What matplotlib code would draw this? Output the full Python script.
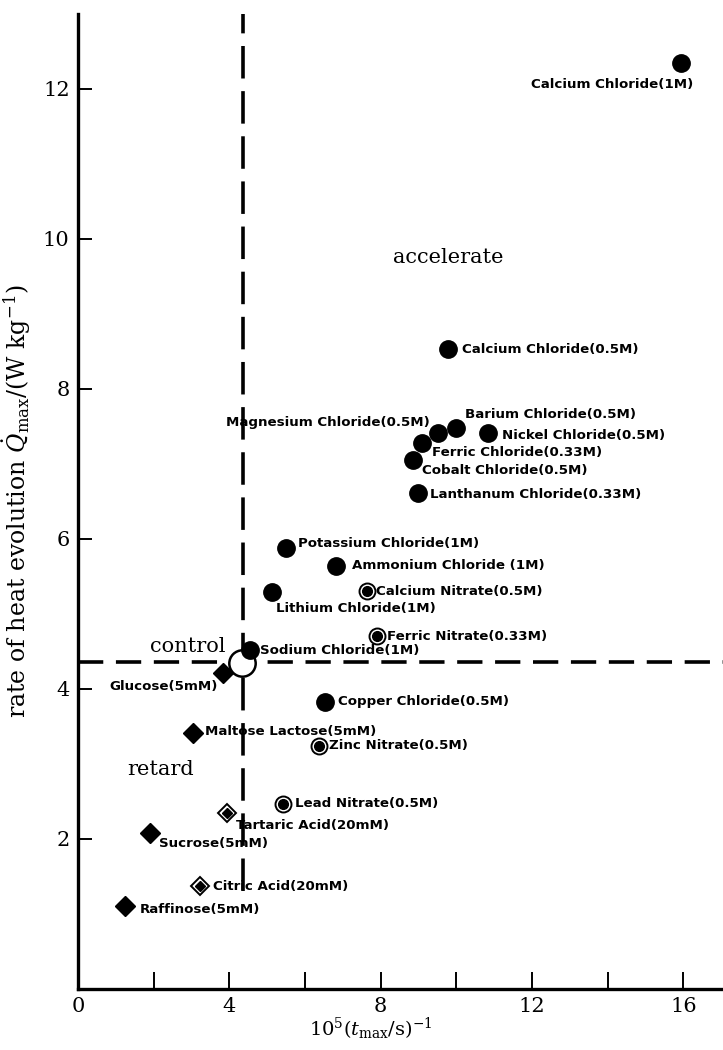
import numpy as np
import matplotlib.pyplot as plt

plt.rcParams["font.family"] = "DejaVu Serif"
plt.rcParams["mathtext.fontset"] = "dejavuserif"

# ----------------------------------------------------------
# data
# ----------------------------------------------------------
names = [
    "Calcium Chloride(1M)", "Calcium Chloride(0.5M)", "Barium Chloride(0.5M)",
    "Magnesium Chloride(0.5M)", "Ferric Chloride(0.33M)", "Cobalt Chloride(0.5M)",
    "Nickel Chloride(0.5M)", "Lanthanum Chloride(0.33M)", "Potassium Chloride(1M)",
    "Ammonium Chloride (1M)", "Lithium Chloride(1M)", "Sodium Chloride(1M)",
    "Copper Chloride(0.5M)",
    "Calcium Nitrate(0.5M)", "Ferric Nitrate(0.33M)", "Zinc Nitrate(0.5M)",
    "Lead Nitrate(0.5M)",
    "Glucose(5mM)", "Maltose Lactose(5mM)", "Sucrose(5mM)", "Raffinose(5mM)",
    "Tartaric Acid(20mM)", "Citric Acid(20mM)",
]
rate_inv = [
    15.94, 9.78, 9.99, 9.52, 9.09, 8.86, 10.84, 8.99, 5.51, 6.81, 5.12, 4.55,
    6.53,
    7.63, 7.90, 6.38, 5.41,
    3.82, 3.03, 1.90, 1.24,
    3.93, 3.22,
]
q_max = [
    12.35, 8.53, 7.48, 7.41, 7.28, 7.05, 7.41, 6.61, 5.88, 5.64, 5.29, 4.52,
    3.83,
    5.30, 4.70, 3.24, 2.47,
    4.21, 3.41, 2.08, 1.11,
    2.34, 1.37,
]
kinds = ["chloride"] * 13 + ["nitrate"] * 4 + ["sugar"] * 4 + ["acid"] * 2

control_x, control_y = 4.33, 4.34
ref_x, ref_y = 4.36, 4.36

# label placement (offset pixels, horizontal alignment)
label_pos = {
    "Calcium Chloride(1M)": (-150, -22, "left"),
    "Calcium Chloride(0.5M)": (14, 0, "left"),
    "Barium Chloride(0.5M)": (9, 13, "left"),
    "Magnesium Chloride(0.5M)": (-8, 11, "right"),
    "Ferric Chloride(0.33M)": (10, -10, "left"),
    "Cobalt Chloride(0.5M)": (9, -10, "left"),
    "Nickel Chloride(0.5M)": (14, -2, "left"),
    "Lanthanum Chloride(0.33M)": (12, -1, "left"),
    "Potassium Chloride(1M)": (12, 4, "left"),
    "Ammonium Chloride (1M)": (16, 0, "left"),
    "Lithium Chloride(1M)": (4, -16, "left"),
    "Sodium Chloride(1M)": (10, -1, "left"),
    "Copper Chloride(0.5M)": (13, 0, "left"),
    "Calcium Nitrate(0.5M)": (9, 0, "left"),
    "Ferric Nitrate(0.33M)": (10, 0, "left"),
    "Zinc Nitrate(0.5M)": (10, 0, "left"),
    "Lead Nitrate(0.5M)": (12, 0, "left"),
    "Glucose(5mM)": (-5, -13, "right"),
    "Maltose Lactose(5mM)": (12, 2, "left"),
    "Sucrose(5mM)": (9, -11, "left"),
    "Raffinose(5mM)": (15, -4, "left"),
    "Tartaric Acid(20mM)": (9, -12, "left"),
    "Citric Acid(20mM)": (13, 0, "left"),
}

fig = plt.figure(figsize=(7.23, 10.5), dpi=100)
ax = fig.add_axes([0.1079, 0.0581, 0.8921, 0.9286])

x = np.array(rate_inv)
y = np.array(q_max)
k = np.array(kinds)

# reference (control) lines
ax.axhline(ref_y, color="black", lw=2.6, dashes=(7, 3.5), zorder=1)
ax.plot([ref_x, ref_x], [1.3, 13.0], color="black", lw=2.6,
        dashes=(9, 3.5), zorder=1)

m = k == "chloride"
ax.plot(x[m], y[m], "o", ms=12.5, color="black", zorder=3)

m = k == "nitrate"
ax.plot(x[m], y[m], "o", ms=11.5, mfc="white", mec="black", mew=1.4, zorder=3)
ax.plot(x[m], y[m], "o", ms=7, color="black", zorder=4)

m = k == "sugar"
ax.plot(x[m], y[m], "D", ms=10.5, color="black", zorder=3)

m = k == "acid"
ax.plot(x[m], y[m], "D", ms=9.5, mfc="white", mec="black", mew=1.4, zorder=3)
ax.plot(x[m], y[m], "D", ms=5.5, color="black", zorder=4)

ax.plot([control_x], [control_y], "o", ms=19, mfc="white", mec="black",
        mew=1.8, zorder=2)

for name, xi, yi in zip(names, rate_inv, q_max):
    dx, dy, ha = label_pos[name]
    ax.annotate(name, (xi, yi), xytext=(dx, dy), textcoords="offset pixels",
                ha=ha, va="center", fontsize=9.6, fontweight="bold",
                family="DejaVu Sans", zorder=5)

ax.text(9.78, 9.75, "accelerate", fontsize=15, ha="center", va="center")
ax.text(2.91, 4.56, "control", fontsize=15, ha="center", va="center")
ax.text(2.17, 2.93, "retard", fontsize=15, ha="center", va="center")

ax.set_xlim(0, 17.05)
ax.set_ylim(0, 13.0)

ax.set_xticks(np.arange(0, 17, 2))
ax.set_xticklabels([str(v) if v % 4 == 0 else "" for v in range(0, 17, 2)])
ax.set_yticks(np.arange(2, 13, 2))

for s in ["top", "right"]:
    ax.spines[s].set_visible(False)
for s in ["left", "bottom"]:
    ax.spines[s].set_linewidth(2.4)

ax.tick_params(axis="x", direction="in", length=12, width=1.4, pad=6,
               labelsize=15)
ax.tick_params(axis="y", direction="in", length=10, width=1.4, pad=6,
               labelsize=15)

ax.set_xlabel(r"$10^5(t_{\mathrm{max}}/\mathrm{s})^{-1}$", fontsize=14)
ax.xaxis.set_label_coords(0.454, -0.028)
ax.set_ylabel(r"rate of heat evolution $\dot{Q}_{\mathrm{max}}/(\mathrm{W\ kg^{-1}})$",
              fontsize=17)
ax.yaxis.set_label_coords(-0.07, 0.5)

plt.savefig("out.png", dpi=100)
plt.close()
